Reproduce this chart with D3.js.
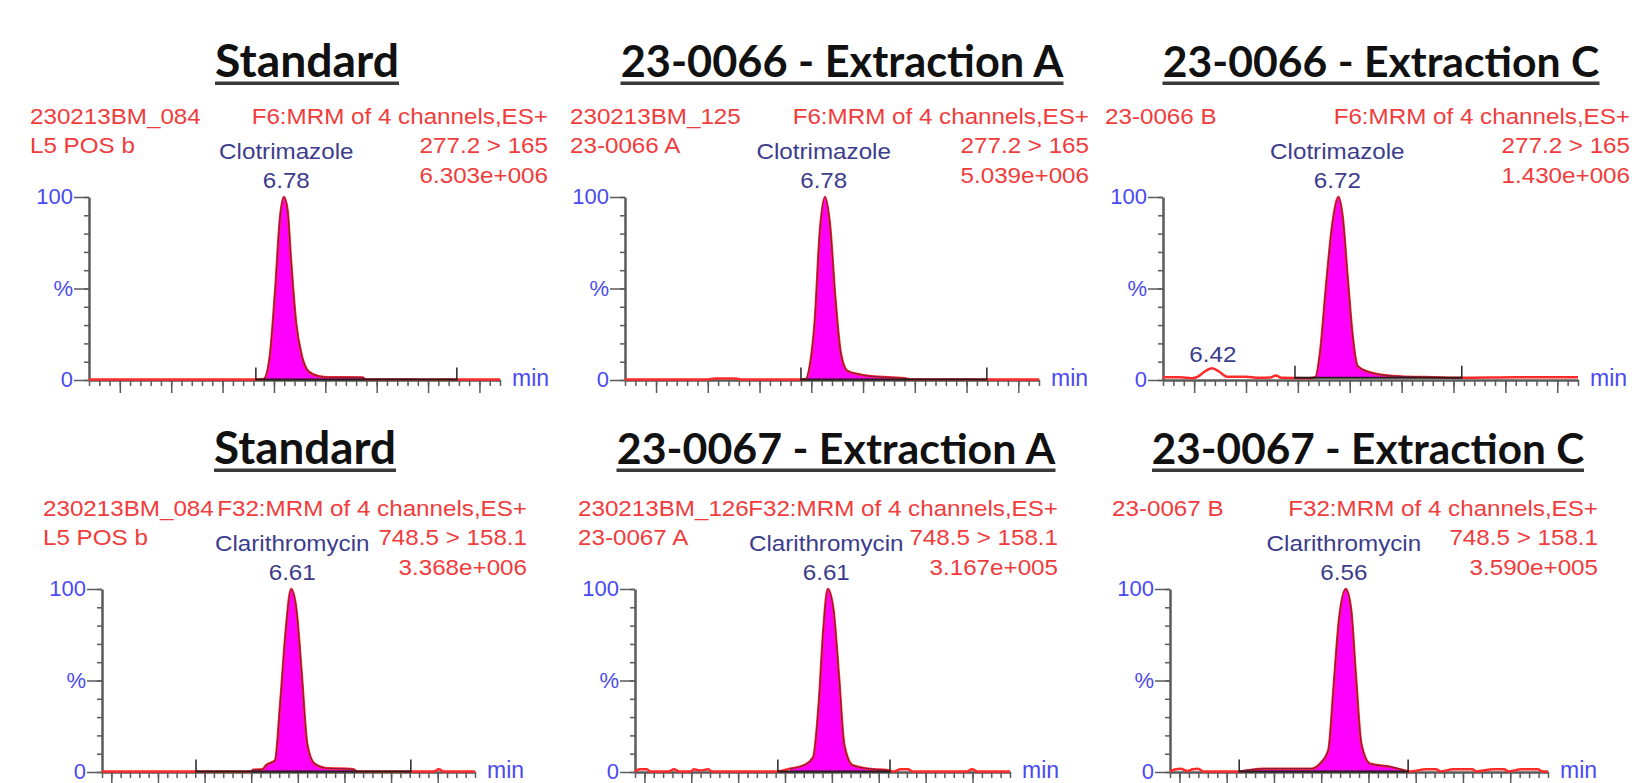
<!DOCTYPE html>
<html>
<head>
<meta charset="utf-8">
<script src="https://cdn.jsdelivr.net/npm/d3@7"></script>
<style>
  body { margin: 0; background: #fff; }
  svg { display: block; }
  .head { font-family: "Liberation Sans", Arial, sans-serif; font-size: 22px; fill: #f03c3c; }
  .cmpd { font-family: "Liberation Sans", Arial, sans-serif; font-size: 22px; fill: #3c3c8c; }
  .axlab { font-family: "Liberation Sans", Arial, sans-serif; font-size: 22px; fill: #4a4af0; }
  .title { font-family: Lato, "Open Sans", sans-serif; font-weight: 700; font-size: 50px; fill: #111; }
  .axis path, .axis line { stroke: #5a5a5a; }
</style>
</head>
<body>
<svg id="chart" width="1632" height="783"></svg>
<script>
// ---- data ----
const titles = ["Standard", "23-0066 - Extraction A", "23-0066 - Extraction C",
                "Standard", "23-0067 - Extraction A", "23-0067 - Extraction C"];
const fileIds = ["230213BM_084", "230213BM_125", "23-0066 B", "230213BM_084", "230213BM_126", "23-0067 B"];
const sampleIds = ["L5 POS b", "23-0066 A", "", "L5 POS b", "23-0067 A", ""];
const functions = ["F6:MRM of 4 channels,ES+", "F6:MRM of 4 channels,ES+", "F6:MRM of 4 channels,ES+",
                   "F32:MRM of 4 channels,ES+", "F32:MRM of 4 channels,ES+", "F32:MRM of 4 channels,ES+"];
const transitions = ["277.2 > 165", "277.2 > 165", "277.2 > 165", "748.5 > 158.1", "748.5 > 158.1", "748.5 > 158.1"];
const intensities = ["6.303e+006", "5.039e+006", "1.430e+006", "3.368e+006", "3.167e+005", "3.590e+005"];
const compounds = ["Clotrimazole", "Clotrimazole", "Clotrimazole", "Clarithromycin", "Clarithromycin", "Clarithromycin"];
const peakLabels = ["6.78", "6.78", "6.72", "6.61", "6.61", "6.56"];
const minorPeakLabels = [[], [], ["6.42"], [], [], []];

const timeRanges = [[6.30, 7.30], [6.30, 7.30], [6.30, 7.30], [6.10, 7.10], [6.10, 7.10], [6.10, 7.10]];
// integration start / end (min) and baseline level (%)
const integrations = [[6.706, 7.195], [6.725, 7.174], [6.618, 7.020], [6.352, 6.928], [6.481, 6.780], [6.283, 6.730]];
const integBase = [0.3, 0.3, 1.2, 0.3, 0.3, 0.3];

const yTickVals = [0, 50, 100];
const yTickLabels = ["0", "%", "100"];

// traces: [time (min), intensity (%)]
const traceStd1 = [[6.30, 0.3], [6.50, 0.3], [6.70, 0.3], [6.726, 0.5], [6.740, 13], [6.753, 49], [6.765, 89],
  [6.774, 100], [6.783, 93], [6.791, 67], [6.804, 31], [6.818, 13], [6.835, 4.5], [6.857, 2.2], [6.884, 1.5],
  [6.965, 1.4], [6.974, 0.3], [7.10, 0.3], [7.30, 0.3]];
const trace66A = [[6.30, 0.3], [6.50, 0.3], [6.517, 0.8], [6.566, 0.8], [6.58, 0.3], [6.72, 0.3], [6.738, 0.5],
  [6.748, 10], [6.758, 31], [6.771, 82], [6.783, 100], [6.795, 85], [6.808, 45], [6.821, 15], [6.837, 5],
  [6.867, 3], [6.896, 2], [6.974, 1], [6.99, 0.3], [7.15, 0.3], [7.30, 0.3]];
const trace66C = [[6.30, 1.5], [6.34, 1.5], [6.37, 1.0], [6.384, 1.8], [6.40, 4.5], [6.418, 6.4], [6.436, 4.5],
  [6.454, 1.8], [6.50, 1.8], [6.53, 1.2], [6.56, 1.4], [6.572, 2.5], [6.585, 1.2], [6.65, 1.0], [6.667, 1.5],
  [6.679, 16], [6.692, 49], [6.708, 85], [6.723, 100], [6.733, 89], [6.745, 56], [6.757, 24], [6.769, 7.6],
  [6.794, 4.5], [6.831, 2.7], [6.884, 1.8], [6.95, 1.5], [7.02, 1.2], [7.15, 1.5], [7.30, 1.5]];
const traceStd2 = [[6.10, 0.3], [6.35, 0.3], [6.50, 0.3], [6.506, 1.2], [6.530, 1.5], [6.540, 3.7], [6.564, 6.4],
  [6.578, 38], [6.593, 78], [6.607, 100], [6.621, 89], [6.636, 52], [6.650, 15.6], [6.669, 4.6], [6.698, 2.2],
  [6.774, 1.5], [6.784, 0.3], [6.99, 0.3], [7.003, 1.5], [7.016, 0.3], [7.10, 0.3]];
const trace67A = [[6.10, 0.3], [6.113, 1.5], [6.132, 1.5], [6.14, 0.3], [6.19, 0.3], [6.204, 1.5], [6.218, 0.3],
  [6.25, 0.3], [6.256, 1.5], [6.275, 0.8], [6.295, 1.5], [6.305, 0.3], [6.48, 0.3], [6.513, 1.8], [6.551, 3.7],
  [6.575, 8], [6.59, 37], [6.602, 77], [6.614, 100], [6.629, 89], [6.644, 52], [6.658, 15], [6.68, 3.7],
  [6.722, 1.8], [6.775, 0.9], [6.79, 0.3], [6.808, 1.5], [6.828, 1.5], [6.84, 0.3], [6.985, 0.3], [6.999, 1.5],
  [7.013, 0.3], [7.10, 0.3]];
const trace67C = [[6.10, 0.3], [6.115, 1.5], [6.129, 1.8], [6.145, 0.5], [6.16, 1.5], [6.174, 1.8], [6.188, 0.3],
  [6.283, 0.3], [6.346, 1.8], [6.473, 1.8], [6.497, 4.6], [6.519, 12], [6.533, 47], [6.547, 83], [6.565, 100],
  [6.579, 89], [6.592, 52], [6.606, 15.6], [6.629, 4.6], [6.684, 2.8], [6.72, 0.9], [6.735, 0.3], [6.777, 1.5],
  [6.804, 1.5], [6.815, 0.3], [6.849, 1.5], [6.90, 1.5], [6.91, 0.3], [6.957, 1.5], [6.984, 1.5], [6.995, 0.3],
  [7.029, 1.5], [7.073, 1.5], [7.085, 0.3], [7.10, 0.3]];
const traces = [traceStd1, trace66A, trace66C, traceStd2, trace67A, trace67C];

// ---- layout ----
const layout = [
  { x0: 89,   x1: 500,  y0: 380, y100: 197, lx: 30,   rx: 548,  tx: 307,  ty: 77,  uy: 83 },
  { x0: 625,  x1: 1039, y0: 380, y100: 197, lx: 570,  rx: 1089, tx: 842,  ty: 77,  uy: 83 },
  { x0: 1163, x1: 1578, y0: 380, y100: 197, lx: 1105, rx: 1630, tx: 1381, ty: 77,  uy: 83 },
  { x0: 102,  x1: 475,  y0: 772, y100: 589, lx: 43,   rx: 527,  tx: 305,  ty: 464, uy: 470 },
  { x0: 635,  x1: 1010, y0: 772, y100: 589, lx: 578,  rx: 1058, tx: 836,  ty: 464, uy: 470 },
  { x0: 1170, x1: 1548, y0: 772, y100: 589, lx: 1112, rx: 1598, tx: 1368, ty: 464, uy: 470 }
];
const titleWidths = [184, 443, 437, 182, 439, 432];

const svg = d3.select("#chart");

function stretchText(g, cls, x, y, anchor, str) {
  return g.append("text")
    .attr("class", cls)
    .attr("text-anchor", anchor)
    .attr("transform", `translate(${x},${y}) scale(1.1,1)`)
    .text(str);
}

titles.forEach((title, i) => {
  const L = layout[i];
  const g = svg.append("g");
  const x = d3.scaleLinear().domain(timeRanges[i]).range([L.x0, L.x1]);
  const y = d3.scaleLinear().domain([0, 100]).range([L.y0, L.y100]);

  // title, sized to its measured width, with underline
  const tt = g.append("text")
    .attr("class", "title")
    .attr("x", L.tx)
    .attr("y", L.ty)
    .attr("text-anchor", "middle")
    .text(title);
  const natural = tt.node().getComputedTextLength();
  tt.style("font-size", (50 * titleWidths[i] / natural).toFixed(1) + "px");
  g.append("rect")
    .attr("x", L.tx - titleWidths[i] / 2)
    .attr("y", L.uy - 1.5)
    .attr("width", titleWidths[i])
    .attr("height", 3.5)
    .attr("fill", "#3a3a3a");

  // header texts
  stretchText(g, "head", L.lx, L.y100 - 73, "start", fileIds[i]);
  stretchText(g, "head", L.lx, L.y100 - 44, "start", sampleIds[i]);
  stretchText(g, "head", L.rx, L.y100 - 73, "end", functions[i]);
  stretchText(g, "head", L.rx, L.y100 - 44, "end", transitions[i]);
  stretchText(g, "head", L.rx, L.y100 - 14, "end", intensities[i]);

  // axes
  const [t0, t1] = timeRanges[i];
  const minor = d3.range(Math.ceil(t0 / 0.025 - 1e-6), Math.floor(t1 / 0.025 + 1e-6) + 1).map(k => k * 0.025);
  const major = minor.filter(t => Math.abs(t / 0.125 - Math.round(t / 0.125)) < 1e-6);

  g.append("g")
    .attr("class", "axis")
    .attr("transform", `translate(0,${L.y0})`)
    .call(d3.axisBottom(x).tickValues(minor).tickSize(6).tickSizeOuter(0).tickFormat(""))
    .call(a => a.select(".domain").attr("stroke-width", 2.5))
    .call(a => a.selectAll(".tick line").attr("stroke-width", 1.5).attr("stroke", "#777"));
  g.append("g")
    .attr("class", "axis")
    .attr("transform", `translate(0,${L.y0})`)
    .call(d3.axisBottom(x).tickValues(major).tickSize(13).tickFormat(""))
    .call(a => a.select(".domain").remove())
    .call(a => a.selectAll(".tick line").attr("stroke-width", 1.5).attr("stroke", "#777"));

  g.append("g")
    .attr("class", "axis")
    .attr("transform", `translate(${L.x0},0)`)
    .call(d3.axisLeft(y).tickValues(d3.range(0, 101, 10)).tickSize(5).tickSizeOuter(0).tickFormat(""))
    .call(a => a.select(".domain").attr("stroke-width", 2.5))
    .call(a => a.selectAll(".tick line").attr("stroke-width", 1.5).attr("stroke", "#777"));
  g.append("g")
    .attr("class", "axis")
    .attr("transform", `translate(${L.x0},0)`)
    .call(d3.axisLeft(y).tickValues(yTickVals).tickSize(15).tickFormat(""))
    .call(a => a.select(".domain").remove())
    .call(a => a.selectAll(".tick line").attr("stroke-width", 1.5).attr("stroke", "#777"));

  yTickVals.forEach((v, k) => {
    g.append("text").attr("class", "axlab")
      .attr("x", L.x0 - 16).attr("y", y(v) + 7)
      .attr("text-anchor", "end")
      .text(yTickLabels[k]);
  });
  g.append("text").attr("class", "axlab")
    .attr("x", L.x1 + 12).attr("y", L.y0 + 6)
    .style("font-size", "23px")
    .text("min");

  // chromatogram
  const data = traces[i];
  const [is, ie] = integrations[i];
  const inWin = data.filter(d => d[0] >= is && d[0] <= ie);

  g.append("path")
    .datum(inWin)
    .attr("fill", "#ff00ff")
    .attr("d", d3.area()
      .x(d => x(d[0]))
      .y0(y(integBase[i]))
      .y1(d => y(Math.max(d[1], integBase[i])))
      .curve(d3.curveMonotoneX));

  g.append("path")
    .datum(data)
    .attr("fill", "none")
    .attr("stroke", "#ff2a2a")
    .attr("stroke-width", 2.5)
    .attr("d", d3.line().x(d => x(d[0])).y(d => y(d[1])).curve(d3.curveMonotoneX));

  g.append("path")
    .datum(inWin)
    .attr("fill", "none")
    .attr("stroke", "#8a1a40")
    .attr("stroke-width", 1.2)
    .attr("d", d3.line().x(d => x(d[0])).y(d => y(d[1])).curve(d3.curveMonotoneX));

  // integration baseline and markers
  g.append("line")
    .attr("x1", x(is)).attr("x2", x(ie))
    .attr("y1", y(integBase[i])).attr("y2", y(integBase[i]))
    .attr("stroke", "#2a1a1a").attr("stroke-width", 2);
  [is, ie].forEach(t => {
    g.append("line")
      .attr("x1", x(t)).attr("x2", x(t))
      .attr("y1", y(integBase[i]) + 1).attr("y2", y(integBase[i]) - 12)
      .attr("stroke", "#222").attr("stroke-width", 1.5);
  });

  // peak labels
  const apex = data.reduce((p, n) => (n[1] > p[1] ? n : p));
  const rt = +peakLabels[i];
  stretchText(g, "cmpd", x(rt), y(apex[1]) - 38, "middle", compounds[i]);
  stretchText(g, "cmpd", x(rt), y(apex[1]) - 9, "middle", peakLabels[i]);
  minorPeakLabels[i].forEach(lbl => {
    const t = +lbl;
    const near = data.reduce((p, n) => (Math.abs(n[0] - t) < Math.abs(p[0] - t) ? n : p));
    stretchText(g, "cmpd", x(t), y(near[1]) - 6, "middle", lbl);
  });
});
</script>
</body>
</html>
